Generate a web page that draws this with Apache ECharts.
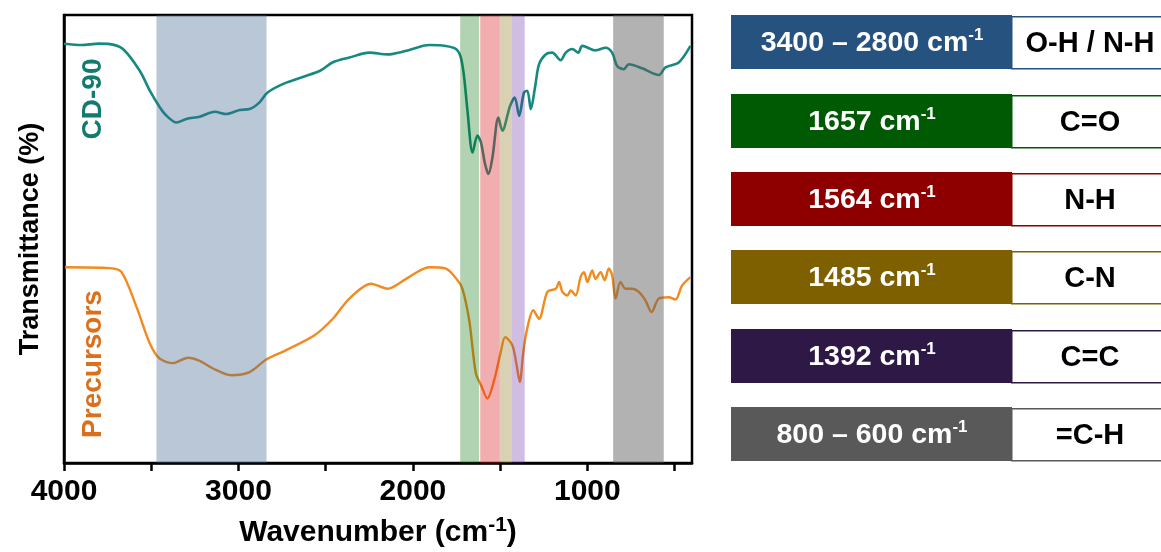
<!DOCTYPE html>
<html>
<head>
<meta charset="utf-8">
<script src="https://cdn.jsdelivr.net/npm/echarts@6/dist/echarts.min.js"></script>
<style>
html,body{margin:0;padding:0;background:#fff;}
#chart{width:1161px;height:552px;}
</style>
</head>
<body>
<div id="chart"></div>
<script>
// ---- data (wavenumber cm-1, transmittance a.u.) ----
const cd90 = [
  [4000,93.6],[3900,93.3],[3800,93.6],[3737,93.5],[3662,92.4],[3565,87.5],[3508,83.1],[3451,79.4],[3412,77.5],
  [3355,76.0],[3298,76.8],[3222,77.3],[3136,78.4],[3069,77.9],[2993,78.8],[2936,79.0],
  [2879,80.5],[2833,82.7],[2726,84.9],[2535,87.5],[2461,89.4],[2364,90.5],[2249,91.6],
  [2146,91.2],[2039,92.0],[1906,93.3],[1811,93.1],[1753,92.4],[1725,90.5],[1706,86.0],
  [1687,78.6],[1658,69.3],[1630,73.1],[1610,71.6],[1586,66.7],[1567,64.5],[1544,68.2],
  [1510,77.1],[1487,74.2],[1443,79.7],[1416,81.6],[1391,77.5],[1363,82.7],[1344,83.1],
  [1324,79.0],[1300,83.8],[1277,89.0],[1239,91.2],[1201,91.6],[1153,89.9],[1124,91.6],
  [1086,92.4],[1052,91.6],[1029,93.1],[953,92.1],[895,92.7],[858,91.6],[829,88.6],
  [791,87.9],[762,89.0],[686,88.1],[590,86.6],[552,88.3],[476,89.4],[409,93.1]
];
const precursors = [
  [3994,43.7],[3737,43.5],[3670,42.6],[3584,34.8],[3508,26.7],[3451,23.3],[3375,22.3],
  [3289,23.5],[3222,22.8],[3146,21.1],[3041,19.6],[2936,20.3],[2840,23.1],[2726,25.2],
  [2564,28.5],[2459,32.2],[2364,36.7],[2240,40.0],[2145,38.9],[2039,41.1],[1906,43.7],
  [1811,43.4],[1744,40.8],[1716,38.9],[1677,31.8],[1639,20.0],[1610,17.4],[1573,14.4],
  [1534,18.5],[1496,24.8],[1471,28.1],[1430,26.3],[1407,22.2],[1387,18.1],[1368,24.4],
  [1347,29.6],[1310,34.1],[1277,32.2],[1229,38.2],[1181,38.9],[1162,40.4],[1143,38.2],
  [1115,37.4],[1095,38.5],[1067,37.4],[1038,41.6],[1019,42.6],[1000,40.4],[972,43.0],
  [953,41.1],[924,42.6],[901,40.8],[877,43.4],[858,41.9],[838,36.7],[810,40.4],
  [781,38.9],[743,38.9],[705,38.2],[667,36.3],[632,33.7],[590,36.7],[533,37.0],
  [495,36.5],[457,39.6],[409,41.5]
];
// highlighted bands (from, to in cm-1)
const bandFrom = [3470, 1729, 1614, 1502, 1433, 852];
const bandTo   = [2839, 1620, 1502, 1433, 1359, 562];
const bandFill = ['rgba(60,100,140,0.36)','rgba(0,110,0,0.30)','rgba(220,30,30,0.36)',
                  'rgba(150,120,40,0.35)','rgba(100,40,160,0.30)','rgba(95,95,95,0.48)'];
// assignment table
const tableRange = ['3400 – 2800 cm', '1657 cm', '1564 cm', '1485 cm', '1392 cm', '800 – 600 cm'];
const tableGroup = ['O-H / N-H', 'C=O', 'N-H', 'C-N', 'C=C', '=C-H'];
const tableColor = ['#26527f', '#005a04', '#8e0000', '#7f6000', '#2e1846', '#595959'];
const xLabelValues = [4000, 3000, 2000, 1000];
const xTickValues = [4000, 3500, 3000, 2500, 2000, 1500, 1000, 500];

const FONT = '"Liberation Sans", Arial, Helvetica, sans-serif';
const chart = echarts.init(document.getElementById('chart'), null, {renderer: 'canvas'});

const bandData = bandFrom.map((f, i) => [f, bandTo[i], i]);

const graphics = [];
const rowTop = [15, 94, 172, 250, 329, 407];
tableRange.forEach((t, i) => {
  const top = rowTop[i];
  graphics.push({type: 'rect', left: 731, top: top, shape: {width: 281, height: 54},
    style: {fill: tableColor[i]}, silent: true});
  graphics.push({type: 'rect', left: 1011, top: top + 1, shape: {width: 170, height: 52},
    style: {fill: '#fff', stroke: tableColor[i], lineWidth: 1.5}, silent: true});
  graphics.push({type: 'text', x: 872, y: top + 28,
    style: {text: '{b|' + t + '}{s|-1}', align: 'center', verticalAlign: 'middle',
      rich: {
        b: {fontSize: 28.5, fontWeight: 'bold', fontFamily: FONT, fill: '#fff', lineHeight: 32},
        s: {fontSize: 17, fontWeight: 'bold', fontFamily: FONT, fill: '#fff', lineHeight: 20, verticalAlign: 'top'}
      }}, silent: true});
  graphics.push({type: 'text', x: 1090, y: top + 29,
    style: {text: tableGroup[i], align: 'center', verticalAlign: 'middle',
      font: 'bold 29px ' + FONT, fill: '#000'}, silent: true});
});
graphics.push({type: 'text', x: 93, y: 99, rotation: Math.PI / 2,
  style: {text: 'CD-90', align: 'center', verticalAlign: 'middle', font: 'bold 28px ' + FONT, fill: '#137a70'}, silent: true});
graphics.push({type: 'text', x: 93, y: 364, rotation: Math.PI / 2,
  style: {text: 'Precursors', align: 'center', verticalAlign: 'middle', font: 'bold 28px ' + FONT, fill: '#d9701c'}, silent: true});

const option = {
  animation: false,
  backgroundColor: '#fff',
  grid: {left: 64, right: 469, top: 15, bottom: 89, show: true, borderColor: '#000', borderWidth: 2.5,
    backgroundColor: 'transparent', containLabel: false, outerBoundsMode: 'none'},
  xAxis: {
    type: 'value', inverse: true, min: 400, max: 4000,
    axisLine: {show: true, lineStyle: {color: '#000', width: 2.5}},
    axisTick: {show: true, inside: false, length: 8, lineStyle: {color: '#000', width: 2.5}, customValues: xTickValues},
    axisLabel: {customValues: xLabelValues, margin: 14, color: '#000', fontSize: 30, fontWeight: 'bold', fontFamily: FONT,
      formatter: v => String(v)},
    splitLine: {show: false},
    name: '{t|Wavenumber (cm}{s|-1}{t|)}',
    nameLocation: 'middle', nameGap: 52,
    nameTextStyle: {rich: {
      t: {fontSize: 30, fontWeight: 'bold', fontFamily: FONT, color: '#000', lineHeight: 36},
      s: {fontSize: 21, fontWeight: 'bold', fontFamily: FONT, color: '#000', lineHeight: 22, verticalAlign: 'top'}
    }}
  },
  yAxis: {
    type: 'value', min: 0, max: 100,
    axisLine: {show: true, lineStyle: {color: '#000', width: 2.5}},
    axisTick: {show: false}, axisLabel: {show: false}, splitLine: {show: false},
    name: 'Transmittance (%)', nameLocation: 'middle', nameRotate: 90, nameGap: 20,
    nameTextStyle: {fontSize: 27, fontWeight: 'bold', fontFamily: FONT, color: '#000'}
  },
  series: [
    {type: 'line', data: cd90, showSymbol: false, smooth: 0.3, z: 2,
      lineStyle: {color: '#168a80', width: 2.6}},
    {type: 'line', data: precursors, showSymbol: false, smooth: 0.3, z: 2,
      lineStyle: {color: '#f28a1e', width: 2.4}},
    {type: 'custom', data: bandData, z: 5, silent: true, clip: true,
      encode: {x: [0, 1]},
      renderItem: function (params, api) {
        const a = api.coord([api.value(0), 100]);
        const b = api.coord([api.value(1), 0]);
        return {type: 'rect',
          shape: {x: Math.min(a[0], b[0]), y: a[1], width: Math.abs(b[0] - a[0]), height: b[1] - a[1]},
          style: {fill: bandFill[api.value(2)]}};
      }}
  ],
  graphic: graphics
};
chart.setOption(option);
</script>
</body>
</html>
